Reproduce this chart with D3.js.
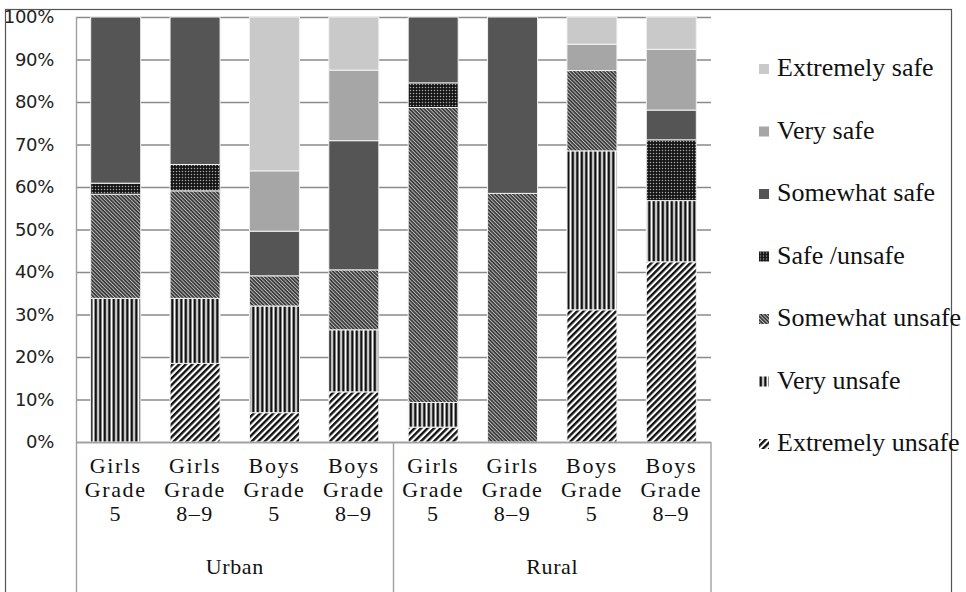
<!DOCTYPE html>
<html>
<head>
<meta charset="utf-8">
<script src="https://cdn.jsdelivr.net/npm/d3@7"></script>
<style>
  body { margin: 0; background: #fff; }
  svg { display: block; }
  .serif { font-family: "Liberation Serif", "Times New Roman", Times, serif; }
</style>
</head>
<body>
<svg class="chart_svg" width="966" height="592"></svg>
<script>
// values, percent of each bar
const groups = ["Urban", "Rural"]
const categories = ["Urban Girls 5", "Urban Girls 8-9", "Urban Boys 5", "Urban Boys 8-9",
                    "Rural Girls 5", "Rural Girls 8-9", "Rural Boys 5", "Rural Boys 8-9"]
const catLabels = [["Girls", "Grade", "5"], ["Girls", "Grade", "8\u20139"], ["Boys", "Grade", "5"], ["Boys", "Grade", "8\u20139"],
                   ["Girls", "Grade", "5"], ["Girls", "Grade", "8\u20139"], ["Boys", "Grade", "5"], ["Boys", "Grade", "8\u20139"]]
const seriesNames = ["Extremely unsafe", "Very unsafe", "Somewhat unsafe", "Safe /unsafe",
                     "Somewhat safe", "Very safe", "Extremely safe"]
const extremelyUnsafe = [0, 18.5, 6.9, 11.8, 3.5, 0, 31.1, 42.4]
const veryUnsafe      = [33.8, 15.3, 25.1, 14.6, 5.8, 0, 37.4, 14.4]
const somewhatUnsafe  = [24.5, 25.3, 7.1, 14.1, 69.4, 58.5, 18.9, 0]
const safeUnsafe      = [2.6, 6.2, 0, 0, 5.8, 0, 0, 14.3]
const somewhatSafe    = [39.1, 34.7, 10.5, 30.4, 15.5, 41.5, 0, 7.0]
const verySafe        = [0, 0, 14.2, 16.6, 0, 0, 6.2, 14.3]
const extremelySafe   = [0, 0, 36.2, 12.5, 0, 0, 6.4, 7.6]
const yTicks = [0, 10, 20, 30, 40, 50, 60, 70, 80, 90, 100]

const seriesValues = [extremelyUnsafe, veryUnsafe, somewhatUnsafe, safeUnsafe,
                      somewhatSafe, verySafe, extremelySafe]

const svg = d3.select("svg.chart_svg")
const margin = { top: 17, left: 76, right: 255, bottom: 150 }
const width = 966 - margin.left - margin.right
const height = 592 - margin.top - margin.bottom

// patterns for the unsafe side
const defs = svg.append("defs")

const p1 = defs.append("pattern").attr("id", "pat-eu")
    .attr("patternUnits", "userSpaceOnUse").attr("width", 4.6).attr("height", 10)
    .attr("patternTransform", "rotate(45)")
p1.append("rect").attr("width", 4.6).attr("height", 10).attr("fill", "#fff")
p1.append("rect").attr("width", 2.4).attr("height", 10).attr("fill", "#111")

const p2 = defs.append("pattern").attr("id", "pat-vu")
    .attr("patternUnits", "userSpaceOnUse").attr("width", 4.5).attr("height", 10)
p2.append("rect").attr("width", 4.5).attr("height", 10).attr("fill", "#fff")
p2.append("rect").attr("x", 0.5).attr("width", 2.6).attr("height", 10).attr("fill", "#111")

const p3 = defs.append("pattern").attr("id", "pat-su")
    .attr("patternUnits", "userSpaceOnUse").attr("width", 2.6).attr("height", 10)
    .attr("patternTransform", "rotate(-45)")
p3.append("rect").attr("width", 2.6).attr("height", 10).attr("fill", "#333")
p3.append("rect").attr("width", 1).attr("height", 10).attr("fill", "#bbb")

const p4 = defs.append("pattern").attr("id", "pat-su2")
    .attr("patternUnits", "userSpaceOnUse").attr("width", 3).attr("height", 3)
p4.append("rect").attr("width", 3).attr("height", 3).attr("fill", "#151515")
p4.append("circle").attr("cx", 1.5).attr("cy", 1.5).attr("r", 0.75).attr("fill", "#aaa")

const fills = ["url(#pat-eu)", "url(#pat-vu)", "url(#pat-su)", "url(#pat-su2)",
               "#555555", "#a6a6a6", "#c9c9c9"]

// outer frame
svg.append("rect")
    .attr("x", 5.5).attr("y", 9.5).attr("width", 946).attr("height", 600)
    .attr("fill", "none").attr("stroke", "#555").attr("stroke-width", 1.2)

const g = svg.append("g").attr("transform", `translate(${margin.left},${margin.top})`)

const x = d3.scaleBand().domain(categories).range([0, width])
    .paddingInner(0.37).paddingOuter(0.185)
const y = d3.scaleLinear().domain([0, 100]).range([height, 0])

// gridlines + tick labels
g.append("g")
    .attr("class", "y axis")
    .call(d3.axisLeft(y).tickValues(yTicks).tickSize(-width).tickPadding(22).tickFormat(d => d + "%"))
    .call(a => a.select(".domain").remove())
    .call(a => a.selectAll(".tick line").attr("stroke", "#8a8a8a").attr("stroke-width", 1.6))
    .call(a => a.selectAll(".tick text")
        .attr("font-family", "DejaVu Sans").attr("font-size", 18)
        .attr("letter-spacing", -0.3).attr("fill", "#222"))

// stacked bars
const rows = categories.map((c, i) => {
    const r = { cat: c }
    seriesNames.forEach((s, k) => { r[s] = seriesValues[k][i] })
    return r
})
const stacked = d3.stack().keys(seriesNames)(rows)

g.append("g").selectAll("g")
    .data(stacked)
    .join("g")
    .attr("fill", (d, i) => fills[i])
    .selectAll("rect")
    .data(d => d.filter(v => v[1] - v[0] > 0))
    .join("rect")
    .attr("x", d => x(d.data.cat))
    .attr("width", x.bandwidth())
    .attr("y", d => y(d[1]))
    .attr("height", d => y(d[0]) - y(d[1]))
    .attr("stroke", "#f2f2f2")
    .attr("stroke-width", 1)

// category axis box
const axisColor = "#a0a0a0"
g.append("line").attr("x1", 0).attr("x2", width).attr("y1", height + 0.5).attr("y2", height + 0.5)
    .attr("stroke", axisColor).attr("stroke-width", 1.4)
g.append("line").attr("x1", 0.5).attr("x2", 0.5).attr("y1", 0).attr("y2", 600)
    .attr("stroke", axisColor).attr("stroke-width", 1.4)
const groupEdges = [0, 4, 8].map(i => i < 8 ? x.step() * i : width)
groupEdges.slice(1).forEach(xe => {
    g.append("line").attr("x1", xe).attr("x2", xe).attr("y1", height).attr("y2", 600)
        .attr("stroke", axisColor).attr("stroke-width", 1.4)
})

const labels = g.append("g").attr("class", "serif").attr("font-size", 22)
    .attr("fill", "#111").attr("text-anchor", "middle").attr("letter-spacing", 1.6)
categories.forEach((c, i) => {
    catLabels[i].forEach((line, j) => {
        labels.append("text")
            .attr("x", x(c) + x.bandwidth() / 2)
            .attr("y", height + 31 + j * 24)
            .text(line)
    })
})
groups.forEach((grp, i) => {
    labels.append("text")
        .attr("x", (groupEdges[i] + groupEdges[i + 1]) / 2)
        .attr("y", height + 132)
        .attr("letter-spacing", 0.6)
        .text(grp)
})

// legend, top item is the last series
const legend = svg.append("g").attr("transform", "translate(759,76)")
seriesNames.slice().reverse().forEach((s, k) => {
    const idx = seriesNames.indexOf(s)
    const row = legend.append("g").attr("transform", `translate(0,${k * 62.5})`)
    row.append("rect").attr("x", 0).attr("y", -12).attr("width", 10).attr("height", 10)
        .attr("fill", fills[idx])
    row.append("text").attr("x", 18).attr("y", 0).attr("class", "serif")
        .attr("font-size", 26).attr("fill", "#111")
        .text(s)
})
</script>
</body>
</html>
